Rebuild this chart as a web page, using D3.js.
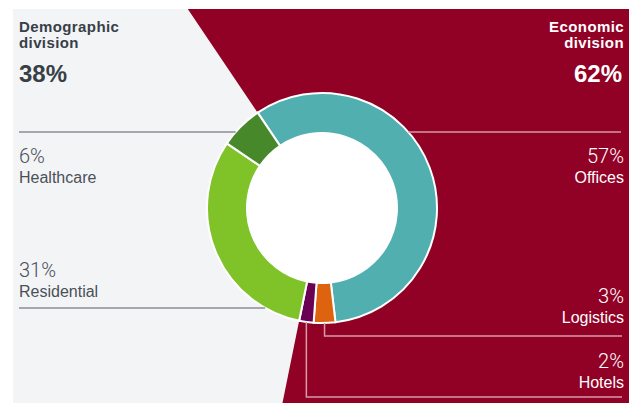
<!DOCTYPE html>
<html>
<head>
<meta charset="utf-8">
<script src="https://cdn.jsdelivr.net/npm/d3@7"></script>
<style>
  body { margin: 0; background: #fff; }
  svg { display: block; }
  text { font-family: "Liberation Sans", Arial, sans-serif; }
  .pct { font-family: Roboto, "Liberation Sans", sans-serif; font-weight: 300; }
</style>
</head>
<body>
<script>
// segments in clockwise order, starting with Offices
var categories = ["Offices", "Logistics", "Hotels", "Residential", "Healthcare"];
var shares = [57, 3, 2, 31, 6];
var colors = ["#52afb0", "#dd630f", "#6b0152", "#7fc328", "#47882b"];
var divisions = ["Demographic division", "Economic division"];
var divisionShares = [38, 62];

var width = 632, height = 403;
var panel = { x: 13, y: 9, w: 616, h: 394 };
var cx = 322, cy = 208, rOuter = 115, rInner = 75;

var svg = d3.select("body").append("svg")
    .attr("width", width)
    .attr("height", height);

// clip rect given in donut-centred coords
svg.append("defs").append("clipPath").attr("id", "panelClip")
  .append("rect")
    .attr("x", panel.x - cx).attr("y", panel.y - cy)
    .attr("width", panel.w).attr("height", panel.h);

svg.append("rect")
    .attr("x", panel.x).attr("y", panel.y)
    .attr("width", panel.w).attr("height", panel.h)
    .attr("fill", "#f3f4f6");

var start = -34 * Math.PI / 180;
var pie = d3.pie().sort(null).value(function (d) { return d; })
    .startAngle(start).endAngle(start + 2 * Math.PI);
var arcs = pie(shares);

// economic division wedge = Offices + Logistics + Hotels
var g = svg.append("g").attr("transform", "translate(" + cx + "," + cy + ")");
g.append("path")
    .attr("clip-path", "url(#panelClip)")
    .attr("d", d3.arc()({ innerRadius: 0, outerRadius: 1000,
        startAngle: arcs[0].startAngle, endAngle: arcs[2].endAngle }))
    .attr("fill", "#910025");

// leader lines
function edgeX(y, side) {
    var dy = y - cy;
    return cx + side * Math.sqrt(rOuter * rOuter - dy * dy);
}
var grayLine = "#8b8e94", pinkLine = "#d69aa8";

svg.append("line").attr("x1", 19).attr("x2", edgeX(132, -1))
    .attr("y1", 132).attr("y2", 132)
    .attr("stroke", grayLine).attr("stroke-width", 1.5);
svg.append("line").attr("x1", 19).attr("x2", edgeX(308, -1))
    .attr("y1", 308).attr("y2", 308)
    .attr("stroke", grayLine).attr("stroke-width", 1.5);
svg.append("line").attr("x1", edgeX(132, 1)).attr("x2", 621)
    .attr("y1", 132).attr("y2", 132)
    .attr("stroke", pinkLine).attr("stroke-width", 1.5);

function elbow(d, yLine) {
    var a = (d.startAngle + d.endAngle) / 2;
    var x = cx + rOuter * Math.sin(a);
    var y = cy - rOuter * Math.cos(a);
    return "M" + x + "," + y + "V" + yLine + "H622";
}
svg.append("path").attr("d", elbow(arcs[1], 336))
    .attr("fill", "none").attr("stroke", pinkLine).attr("stroke-width", 1.5);
svg.append("path").attr("d", elbow(arcs[2], 397))
    .attr("fill", "none").attr("stroke", pinkLine).attr("stroke-width", 1.5);

// donut
var arc = d3.arc().innerRadius(rInner).outerRadius(rOuter);
g.append("circle").attr("r", rInner).attr("fill", "#fff");
g.selectAll(".seg")
    .data(arcs)
    .enter().append("path")
    .attr("class", "seg")
    .attr("d", arc)
    .attr("fill", function (d, i) { return colors[i]; })
    .attr("stroke", "#fff")
    .attr("stroke-width", 2);

// division headers
function header(x, anchor, color, name, share) {
    var words = name.split(" ");
    svg.append("text").attr("x", x).attr("y", 32).attr("text-anchor", anchor)
        .attr("fill", color).attr("font-weight", "bold").attr("font-size", 15)
        .attr("letter-spacing", 0.4)
        .text(words[0]);
    svg.append("text").attr("x", x).attr("y", 48).attr("text-anchor", anchor)
        .attr("fill", color).attr("font-weight", "bold").attr("font-size", 15)
        .attr("letter-spacing", 0.4)
        .text(words[1]);
    svg.append("text").attr("x", x - (anchor === "end" ? 2 : 0)).attr("y", 82)
        .attr("text-anchor", anchor)
        .attr("fill", color).attr("font-weight", "bold").attr("font-size", 24)
        .text(share + "%");
}
header(19, "start", "#373f47", divisions[0], divisionShares[0]);
header(624, "end", "#ffffff", divisions[1], divisionShares[1]);

// segment labels
var labelPos = [
    { x: 624, y: 163, anchor: "end", color: "#ffffff" },
    { x: 624, y: 303, anchor: "end", color: "#ffffff" },
    { x: 624, y: 368, anchor: "end", color: "#ffffff" },
    { x: 19, y: 277, anchor: "start", color: "#4a5058" },
    { x: 19, y: 163, anchor: "start", color: "#4a5058" }
];
categories.forEach(function (c, i) {
    var p = labelPos[i];
    svg.append("text").attr("class", "pct")
        .attr("x", p.x).attr("y", p.y).attr("text-anchor", p.anchor)
        .attr("fill", p.color).attr("font-size", 20)
        .text(shares[i] + "%");
    svg.append("text")
        .attr("x", p.x).attr("y", p.y + 20).attr("text-anchor", p.anchor)
        .attr("fill", p.color).attr("font-size", 16)
        .text(c);
});
</script>
</body>
</html>
